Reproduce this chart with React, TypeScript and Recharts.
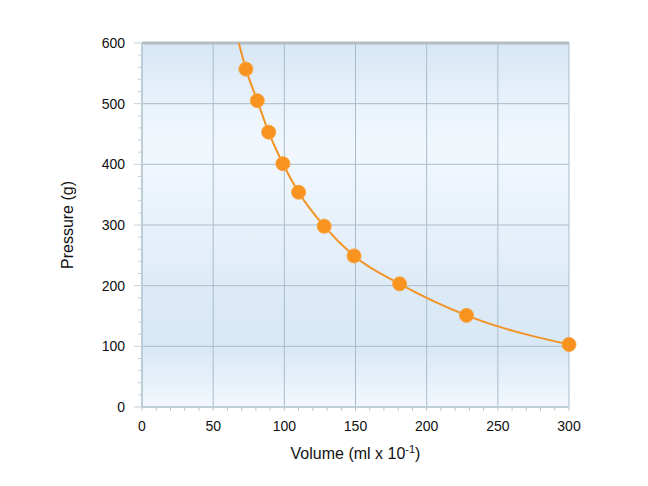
import React from 'react';
import {
  ComposedChart,
  Line,
  Scatter,
  XAxis,
  YAxis,
  CartesianGrid,
  ReferenceLine,
  Label,
} from 'recharts';

// Measured points: volume (ml x 10^-1) and pressure (g)
const volume = [73, 81, 89, 99, 110, 128, 149, 181, 228, 300];
const pressure = [557, 505, 453, 401, 354, 298, 249, 203, 151, 103];
// where the fitted curve leaves the top of the plot
const curveHeadVolume = 68;
const curveHeadPressure = 600;

const xTicks = [0, 10, 20, 30, 40, 50, 60, 70, 80, 90, 100, 110, 120, 130, 140, 150, 160, 170, 180, 190, 200, 210, 220, 230, 240, 250, 260, 270, 280, 290, 300];
const yTicks = [0, 20, 40, 60, 80, 100, 120, 140, 160, 180, 200, 220, 240, 260, 280, 300, 320, 340, 360, 380, 400, 420, 440, 460, 480, 500, 520, 540, 560, 580, 600];
const xGrid = [0, 50, 100, 150, 200, 250, 300];
const yGrid = [0, 100, 200, 300, 400, 500, 600];

const points = volume.map((v, i) => ({ volume: v, pressure: pressure[i] }));
const curve = [{ volume: curveHeadVolume, pressure: curveHeadPressure }, ...points];

const FONT = "Arial, 'Liberation Sans', Helvetica, sans-serif";
const ORANGE = '#f7931e';

const YTick = (props: any) => {
  const { x, y, payload } = props;
  const major = payload.value % 100 === 0;
  return (
    <g>
      <line x1={x - (major ? 8 : 4)} x2={x} y1={y} y2={y} stroke="#c2d0d8" strokeWidth={1} />
      {major && (
        <text x={x - 17} y={y} dy="0.36em" textAnchor="end" fontSize={14} fontFamily={FONT} fill="#111">
          {payload.value}
        </text>
      )}
    </g>
  );
};

const XLabel = (props: any) => {
  const vb = props.viewBox || {};
  const cx = vb.x + vb.width / 2;
  return (
    <text x={cx} y={vb.y + 52} textAnchor="middle" fontSize={16} fontFamily={FONT} fill="#111">
      <tspan>Volume (ml x 10</tspan>
      <tspan dy={-6} fontSize={11}>-1</tspan>
      <tspan dy={6}>)</tspan>
    </text>
  );
};

const YLabel = (props: any) => {
  const vb = props.viewBox || {};
  const x = vb.x - 9;
  const y = vb.y + vb.height / 2;
  return (
    <text x={x} y={y} transform={`rotate(-90, ${x}, ${y})`} textAnchor="middle" fontSize={16} fontFamily={FONT} fill="#111">
      Pressure (g)
    </text>
  );
};

const Dot = (props: any) => {
  const { cx, cy } = props;
  return <circle cx={cx} cy={cy} r={7} fill={ORANGE} stroke="#f9a443" strokeWidth={1} />;
};

export default function App() {
  return (
    <div style={{ position: 'absolute', left: 0, top: 0, width: 648, height: 486, background: '#fff' }}>
      <ComposedChart width={648} height={486} margin={{ top: 43, right: 79, bottom: 49, left: 82 }}>
        <defs>
          <linearGradient id="bgGrad" x1="0" y1="0" x2="0" y2="1">
            <stop offset="0%" stopColor="#d7e7f5" />
            <stop offset="22%" stopColor="#eef5fc" />
            <stop offset="30%" stopColor="#f1f7fd" />
            <stop offset="50%" stopColor="#e8f1fa" />
            <stop offset="70%" stopColor="#dceaf7" />
            <stop offset="84%" stopColor="#d9e8f6" />
            <stop offset="100%" stopColor="#f3f8fd" />
          </linearGradient>
        </defs>
        <CartesianGrid
          fill="url(#bgGrad)"
          stroke="#a9bdc9"
          strokeWidth={1}
          verticalValues={xGrid}
          horizontalValues={yGrid}
        />
        <XAxis
          dataKey="volume"
          type="number"
          domain={[0, 300]}
          ticks={xTicks}
          interval={0}
          tickFormatter={(v: number) => (v % 50 === 0 ? String(v) : '')}
          tickSize={4}
          tickMargin={10}
          tick={{ fontSize: 14, fill: '#111', fontFamily: FONT }}
          tickLine={{ stroke: '#b8c6cf' }}
          axisLine={{ stroke: '#bfcfd8', strokeWidth: 2 }}
          height={30}
        >
          <Label content={<XLabel />} />
        </XAxis>
        <YAxis
          dataKey="pressure"
          type="number"
          domain={[0, 600]}
          ticks={yTicks}
          interval={0}
          tick={<YTick />}
          tickLine={false}
          tickSize={0}
          tickMargin={0}
          axisLine={{ stroke: '#bccdd7', strokeWidth: 2 }}
          width={60}
          allowDataOverflow
        >
          <Label content={<YLabel />} />
        </YAxis>
        <ReferenceLine y={600} stroke="#b2bcc2" strokeWidth={3} />
        <Line
          data={curve}
          dataKey="pressure"
          type="monotone"
          stroke="#f39325"
          strokeWidth={2}
          dot={false}
          activeDot={false}
          isAnimationActive={false}
        />
        <Scatter data={points} dataKey="pressure" shape={<Dot />} isAnimationActive={false} />
      </ComposedChart>
    </div>
  );
}
